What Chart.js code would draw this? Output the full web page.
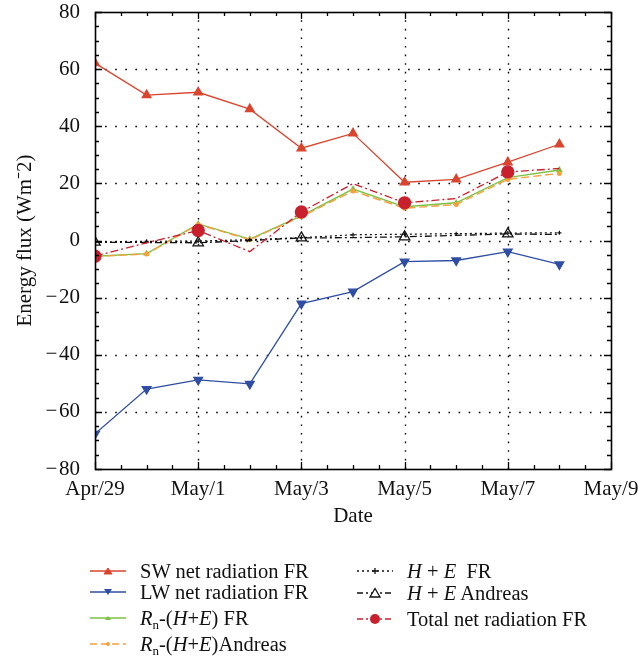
<!DOCTYPE html>
<html>
<head>
<meta charset="utf-8">
<script src="https://cdn.jsdelivr.net/npm/chart.js@4/dist/chart.umd.min.js"></script>
<style>
  html, body { margin: 0; padding: 0; background: #fff; }
  #wrap { position: relative; width: 639px; height: 659px; font-family: 'Liberation Serif', 'Times New Roman', serif; }
  #c { position: absolute; left: 0; top: 0; }
  .leg { position: absolute; font-size: 20.5px; color: #111; white-space: nowrap; line-height: 24px; }
  .leg svg { position: absolute; left: 0; top: 6px; }
  .leg span { position: absolute; left: 50px; top: 0; }
  sub { font-size: 13px; vertical-align: -4px; line-height: 0; }
</style>
</head>
<body>
<div id="wrap">
  <canvas id="c" width="639" height="659"></canvas>
</div>
<script>
// ---- Data ----
const days = ['Apr/29','Apr/30','May/1','May/2','May/3','May/4','May/5','May/6','May/7','May/8'];
const tickLabels = ['Apr/29','May/1','May/3','May/5','May/7','May/9'];
const swNet     = [62.1, 50.9, 51.9, 46.0, 32.3, 37.5, 20.4, 21.4, 27.4, 33.7];
const lwNet     = [-67.7, -52.0, -48.8, -50.2, -22.1, -17.9, -7.4, -7.0, -3.9, -8.4];
const rnFR      = [-5.5, -4.6, 5.8, 0.5, 8.6, 18.0, 11.8, 13.2, 22.0, 24.7];
const rnAndreas = [-5.6, -4.7, 5.6, 0.3, 8.4, 17.3, 11.3, 12.6, 21.4, 23.5];
const heFR      = [-0.5, -0.3, -0.2, 0.3, 1.0, 2.0, 2.2, 2.4, 2.6, 2.7];
const heAndreas = [-0.6, -0.7, -0.8, 0.0, 0.9, 1.0, 1.3, 1.8, 2.3, 2.1];
const totalNet  = [-5.5, -0.8, 3.5, -3.9, 10.0, 19.9, 13.2, 14.7, 24.0, 25.2];

const FONT = "'Liberation Serif', 'Times New Roman', serif";
const FS = 21;
const toXY = arr => arr.map((v, i) => ({ x: i, y: v }));
const everyOther = (r) => days.map((d, i) => (i % 2 === 0 ? r : 0));

const COL = {
  sw: '#d9452e', lw: '#2e4da3', green: '#7cc142', orange: '#f6a03c', total: '#c9202e', black: '#111'
};

const framePlugin = {
  id: 'frame',
  beforeDatasetsDraw(chart) {
    const { ctx, chartArea: a, scales: { x, y } } = chart;
    ctx.save();
    ctx.strokeStyle = '#000';
    ctx.lineWidth = 1.4;
    ctx.setLineDash([1.6, 7]);
    for (let v = 2; v < 10; v += 2) {
      const px = Math.round(x.getPixelForValue(v)) + 0.5;
      ctx.beginPath(); ctx.moveTo(px, a.bottom); ctx.lineTo(px, a.top); ctx.stroke();
    }
    ctx.setLineDash([1.6, 8.5]);
    for (let v = -60; v < 80; v += 20) {
      const py = Math.round(y.getPixelForValue(v)) + 0.5;
      ctx.beginPath(); ctx.moveTo(a.left, py); ctx.lineTo(a.right, py); ctx.stroke();
    }
    ctx.restore();
  },
  afterDatasetsDraw(chart) {
    const { ctx, chartArea: a, scales: { x, y } } = chart;
    ctx.save();
    ctx.strokeStyle = '#000';
    ctx.setLineDash([]);
    ctx.lineWidth = 1.3;
    for (let v = 0; v <= 10.001; v += 0.5) {
      const px = Math.round(x.getPixelForValue(v)) + 0.5;
      const len = (Math.abs(v % 2) < 0.001) ? 7 : 4;
      ctx.beginPath();
      ctx.moveTo(px, a.bottom); ctx.lineTo(px, a.bottom - len);
      ctx.moveTo(px, a.top); ctx.lineTo(px, a.top + len);
      ctx.stroke();
    }
    for (let v = -80; v <= 80; v += 5) {
      const py = Math.round(y.getPixelForValue(v)) + 0.5;
      const len = (v % 20 === 0) ? 7 : 4;
      ctx.beginPath();
      ctx.moveTo(a.left, py); ctx.lineTo(a.left + len, py);
      ctx.moveTo(a.right, py); ctx.lineTo(a.right - len, py);
      ctx.stroke();
    }
    ctx.lineWidth = 1.6;
    ctx.strokeRect(Math.round(a.left) + 0.5, Math.round(a.top) + 0.5, Math.round(a.right - a.left), Math.round(a.bottom - a.top));
    ctx.restore();
  }
};

new Chart(document.getElementById('c'), {
  type: 'line',
  data: {
    datasets: [
      { label: 'SW net radiation FR', data: toXY(swNet), borderColor: COL.sw, backgroundColor: COL.sw,
        borderWidth: 1.3, pointStyle: 'triangle', pointRadius: 5, order: 1 },
      { label: 'LW net radiation FR', data: toXY(lwNet), borderColor: COL.lw, backgroundColor: COL.lw,
        borderWidth: 1.3, pointStyle: 'triangle', rotation: 180, pointRadius: 5, order: 2 },
      { label: 'Rn-(H+E) FR', data: toXY(rnFR), borderColor: COL.green, backgroundColor: COL.green,
        borderWidth: 1.4, pointStyle: 'triangle', pointRadius: 2.5, order: 6 },
      { label: 'Rn-(H+E)Andreas', data: toXY(rnAndreas), borderColor: COL.orange, backgroundColor: COL.orange,
        borderWidth: 1.4, borderDash: [8, 4], pointStyle: 'circle', pointRadius: 1.8, order: 5 },
      { label: 'H + E FR', data: toXY(heFR), borderColor: COL.black, backgroundColor: COL.black,
        borderWidth: 1.2, borderDash: [2, 3], pointStyle: 'cross', pointRadius: 2, order: 4 },
      { label: 'H+E Andreas', data: toXY(heAndreas), borderColor: COL.black, backgroundColor: 'rgba(255,255,255,0)',
        borderWidth: 1.3, borderDash: [7, 3, 2, 3], pointStyle: 'triangle', pointRadius: everyOther(6),
        pointBorderColor: COL.black, pointBorderWidth: 1.3, order: 3 },
      { label: 'Total net radiation FR', data: toXY(totalNet), borderColor: COL.total, backgroundColor: COL.total,
        borderWidth: 1.3, borderDash: [8, 3, 2, 3], pointStyle: 'circle', pointRadius: everyOther(6), order: 0 }
    ]
  },
  options: {
    responsive: false,
    animation: false,
    layout: { padding: { left: 0, right: 28, top: 12, bottom: 130 } },
    plugins: { legend: { display: false }, tooltip: { enabled: false } },
    elements: { line: { tension: 0 } },
    scales: {
      x: {
        type: 'linear', min: 0, max: 10,
        grid: { display: false, drawTicks: false },
        border: { display: false },
        ticks: { stepSize: 2, padding: 8, color: '#111', maxRotation: 0, font: { family: FONT, size: FS },
          callback: v => tickLabels[v / 2] },
        title: { display: true, text: 'Date', color: '#111', font: { family: FONT, size: FS }, padding: { top: 0, bottom: 0 } },
        afterFit: s => { s.height = 60; s.paddingLeft = 0; s.paddingRight = 0; }
      },
      y: {
        min: -80, max: 80,
        grid: { display: false, drawTicks: false },
        border: { display: false },
        ticks: { stepSize: 20, padding: 15, color: '#111', font: { family: FONT, size: FS },
          callback: v => String(v).replace('-', '\u2212\u200A') },
        title: { display: true, text: 'Energy flux (Wm\u207B2)', color: '#111', font: { family: FONT, size: FS }, padding: { top: 13, bottom: 0 } },
        afterFit: s => { s.width = 95; s.paddingTop = 0; s.paddingBottom = 0; }
      }
    }
  },
  plugins: [framePlugin]
});

// ---- HTML legend ----
const wrap = document.getElementById('wrap');
function sample(color, dash, marker, fill) {
  let m = '';
  if (marker === 'tri') m = `<polygon points="18,3 14,9 22,9" fill="${fill || color}" stroke="${color}" stroke-width="1"/>`;
  if (marker === 'tridown') m = `<polygon points="18,9 14,3 22,3" fill="${color}"/>`;
  if (marker === 'smalltri') m = `<polygon points="18,4 15,8 21,8" fill="${color}"/>`;
  if (marker === 'dot') m = `<circle cx="18" cy="6" r="2" fill="${color}"/>`;
  if (marker === 'plus') m = `<path d="M15,6 H21 M18,3 V9" stroke="${color}" stroke-width="1.3"/>`;
  if (marker === 'opentri') m = `<polygon points="18,1.5 13,10 23,10" fill="#fff" stroke="${color}" stroke-width="1.3"/>`;
  if (marker === 'circle') m = `<circle cx="18" cy="6" r="5" fill="${color}"/>`;
  return `<svg width="36" height="12"><line x1="0" y1="6" x2="36" y2="6" stroke="${color}" stroke-width="1.5" ${dash ? `stroke-dasharray="${dash}"` : ''}/>${m}</svg>`;
}
const legendItems = [
  { x: 90, y: 559, s: sample(COL.sw, '', 'tri'), t: 'SW net radiation FR' },
  { x: 90, y: 580, s: sample(COL.lw, '', 'tridown'), t: 'LW net radiation FR' },
  { x: 90, y: 606, s: sample(COL.green, '', 'smalltri'), t: '<i>R</i><sub>n</sub>-(<i>H</i>+<i>E</i>) FR' },
  { x: 90, y: 632, s: sample(COL.orange, '7,4', 'dot'), t: '<i>R</i><sub>n</sub>-(<i>H</i>+<i>E</i>)Andreas' },
  { x: 357, y: 559, s: sample(COL.black, '2,3', 'plus'), t: '<i>H</i> + <i>E</i>&nbsp; FR' },
  { x: 357, y: 581, s: sample(COL.black, '6,3,2,3', 'opentri'), t: '<i>H</i> + <i>E</i> Andreas' },
  { x: 357, y: 607, s: sample(COL.total, '6,3,2,3', 'circle'), t: 'Total net radiation FR' }
];
legendItems.forEach(it => {
  const d = document.createElement('div');
  d.className = 'leg';
  d.style.left = it.x + 'px';
  d.style.top = it.y + 'px';
  d.innerHTML = it.s + '<span>' + it.t + '</span>';
  wrap.appendChild(d);
});
</script>
</body>
</html>
